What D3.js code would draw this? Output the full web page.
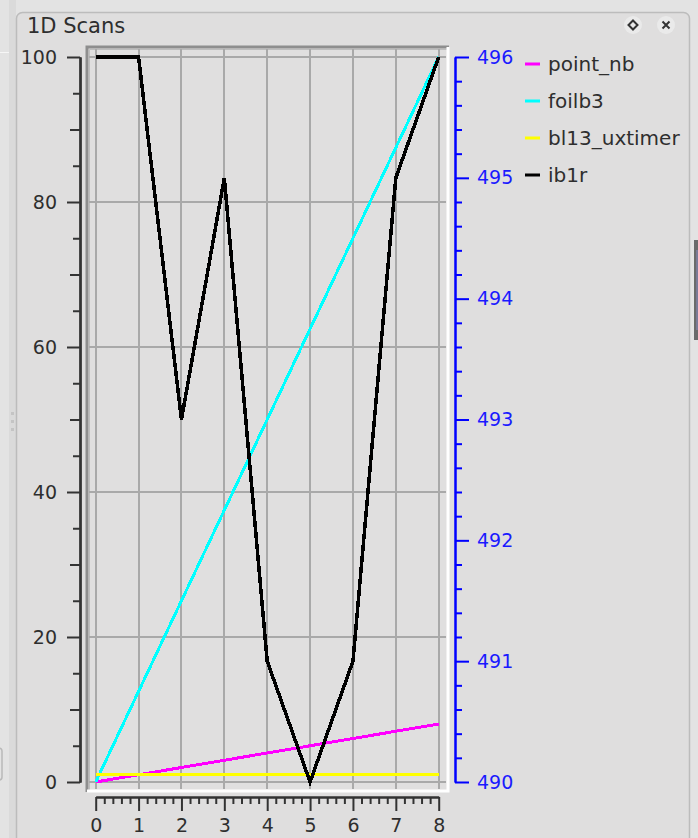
<!DOCTYPE html>
<html>
<head>
<meta charset="utf-8">
<script src="https://cdn.jsdelivr.net/npm/d3@7"></script>
<style>
  html, body { margin: 0; padding: 0; background: #e2e2e2; }
  svg { display: block; }
</style>
</head>
<body>
<svg id="chart" width="698" height="838"></svg>
<script>
// ---- data ----
const xValues = [0, 1, 2, 3, 4, 5, 6, 7, 8];
const pointNb = [0, 1, 2, 3, 4, 5, 6, 7, 8];
const foilb3 = [0, 12.5, 25, 37.5, 50, 62.5, 75, 87.5, 100];
const bl13Uxtimer = [1, 1, 1, 1, 1, 1, 1, 1, 1];
const ib1r = [496, 496, 493, 495, 491, 490, 491, 495, 496];
const seriesNames = ["point_nb", "foilb3", "bl13_uxtimer", "ib1r"];
const seriesColors = ["#ff00ff", "#00ffff", "#ffff00", "#000000"];
const xTicks = [0, 1, 2, 3, 4, 5, 6, 7, 8];
const leftTicks = [0, 20, 40, 60, 80, 100];
const rightTicks = [490, 491, 492, 493, 494, 495, 496];
const title = "1D Scans";

const svg = d3.select("#chart");
const FONT = "DejaVu Sans, sans-serif";
const TXT = "#2e2e2e";
const AXIS_FS = 19;

// ---- window chrome ----
svg.append("rect").attr("x", 0).attr("y", 0).attr("width", 698).attr("height", 838).attr("fill", "#e3e3e3");
svg.append("rect").attr("x", 9).attr("y", 0).attr("width", 7).attr("height", 838).attr("fill", "#dadada");
svg.append("line").attr("x1", 0).attr("x2", 9).attr("y1", 52.5).attr("y2", 52.5).attr("stroke", "#f6f6f6").attr("stroke-width", 1);
svg.append("rect").attr("x", -4).attr("y", 748).attr("width", 6).attr("height", 32).attr("rx", 3)
  .attr("fill", "none").attr("stroke", "#b9b9b9").attr("stroke-width", 1.5);
[412, 420, 428].forEach(y => svg.append("rect").attr("x", 11).attr("y", y).attr("width", 3).attr("height", 3).attr("fill", "#c4c4c4"));
svg.append("rect").attr("x", 16.5).attr("y", 12.5).attr("width", 673).attr("height", 840).attr("rx", 6)
  .attr("fill", "#dfdede").attr("stroke", "#bcbcbc").attr("stroke-width", 1.5);
// right scroll handle
svg.append("rect").attr("x", 694).attr("y", 240).attr("width", 6).attr("height", 100).attr("fill", "#6a6a6a");
svg.append("rect").attr("x", 696).attr("y", 250).attr("width", 4).attr("height", 80).attr("fill", "#7a7a96");

// title & buttons
svg.append("text").attr("x", 27).attr("y", 26).attr("dy", "0.35em")
  .attr("font-family", FONT).attr("font-size", 21).attr("fill", TXT).text(title);
svg.append("circle").attr("cx", 633).attr("cy", 25).attr("r", 9).attr("fill", "#eaeaea");
svg.append("circle").attr("cx", 666).attr("cy", 25).attr("r", 9).attr("fill", "#eaeaea");
svg.append("path").attr("d", "M633,20.5 L637.5,25 L633,29.5 L628.5,25 Z")
  .attr("fill", "none").attr("stroke", "#333").attr("stroke-width", 2);
svg.append("path").attr("d", "M662.5,21.5 L669.5,28.5 M669.5,21.5 L662.5,28.5")
  .attr("stroke", "#333").attr("stroke-width", 2);

// ---- plot frame ----
const frame = { x0: 86, y0: 46, x1: 449, y1: 792 };
svg.append("rect").attr("x", frame.x0).attr("y", frame.y0).attr("width", frame.x1 - frame.x0).attr("height", frame.y1 - frame.y0)
  .attr("fill", "#e0dfdf");
svg.append("path").attr("d", `M${frame.x0 + 1},${frame.y1} V${frame.y0 + 1} H${frame.x1}`)
  .attr("fill", "none").attr("stroke", "#8e8e8e").attr("stroke-width", 3);
svg.append("path").attr("d", `M${frame.x0 + 3.5},${frame.y1 - 2} V${frame.y0 + 3.5} H${frame.x1 - 2}`)
  .attr("fill", "none").attr("stroke", "#bdbdbd").attr("stroke-width", 1);
svg.append("path").attr("d", `M${frame.x0 + 1},${frame.y1 - 1} H${frame.x1 - 1} V${frame.y0 + 1}`)
  .attr("fill", "none").attr("stroke", "#ffffff").attr("stroke-width", 3);

// ---- scales ----
const x = d3.scaleLinear().domain([0, 8]).range([95.7, 438.7]);
const yL = d3.scaleLinear().domain([0, 100]).range([782, 57]);
const yR = d3.scaleLinear().domain([490, 496]).range([782, 57]);

// grid
const grid = svg.append("g").attr("stroke", "#a9a9a9").attr("stroke-width", 2).attr("shape-rendering", "crispEdges");
xTicks.forEach(v => grid.append("line").attr("x1", x(v)).attr("x2", x(v)).attr("y1", frame.y0 + 3).attr("y2", frame.y1 - 3));
leftTicks.forEach(v => grid.append("line").attr("x1", frame.x0 + 3).attr("x2", frame.x1 - 3).attr("y1", yL(v)).attr("y2", yL(v)));

// ---- series ----
const series = [
  { name: seriesNames[0], color: seriesColors[0], values: pointNb, scale: yL },
  { name: seriesNames[1], color: seriesColors[1], values: foilb3, scale: yL },
  { name: seriesNames[2], color: seriesColors[2], values: bl13Uxtimer, scale: yL },
  { name: seriesNames[3], color: seriesColors[3], values: ib1r, scale: yR }
];
series.forEach(s => {
  const line = d3.line().x((d, i) => x(xValues[i])).y(d => s.scale(d));
  svg.append("path").datum(s.values).attr("d", line)
    .attr("fill", "none").attr("stroke", s.color).attr("stroke-width", s.name === "ib1r" ? 3.5 : 3)
    .attr("stroke-linejoin", "miter").attr("shape-rendering", "crispEdges");
});

// ---- axes ----
function styleAxis(g, color) {
  g.selectAll("path,line").attr("stroke", color).attr("stroke-width", 2);
  g.selectAll("text").attr("fill", color).attr("font-family", FONT).attr("font-size", AXIS_FS);
  g.attr("font-family", null).attr("font-size", null);
}
const d3range = (a, b, step) => d3.range(Math.round((b - a) / step) + 1).map(i => +(a + i * step).toFixed(4));

// left axis
const leftMinor = d3range(0, 100, 5).filter(v => v % 10 !== 0);
const leftMedium = d3range(0, 100, 10).filter(v => v % 20 !== 0);
const gL = svg.append("g").attr("transform", "translate(80,0)");
gL.append("g").call(d3.axisLeft(yL).tickValues(leftMinor).tickSize(7).tickSizeOuter(0).tickFormat("")).call(g => styleAxis(g, "#333"));
gL.append("g").call(d3.axisLeft(yL).tickValues(leftMedium).tickSize(10).tickSizeOuter(0).tickFormat("")).call(g => styleAxis(g, "#333"));
gL.append("g").call(d3.axisLeft(yL).tickValues(leftTicks).tickSize(13).tickSizeOuter(0).tickPadding(10).tickFormat(d3.format("d"))).call(g => styleAxis(g, "#333"));
gL.selectAll("text").attr("fill", TXT);

// right axis
const rightMinor = d3range(490, 496, 0.2).filter(v => Math.abs(v - Math.round(v)) > 1e-6);
const gR = svg.append("g").attr("transform", "translate(455,0)");
gR.append("g").call(d3.axisRight(yR).tickValues(rightMinor).tickSize(7).tickSizeOuter(0).tickFormat("")).call(g => styleAxis(g, "#0000ff"));
gR.append("g").call(d3.axisRight(yR).tickValues(rightTicks).tickSize(14).tickSizeOuter(0).tickPadding(8).tickFormat(d3.format("d"))).call(g => styleAxis(g, "#1a1aff"));
gR.selectAll("path,line").attr("stroke", "#0000ff");

// bottom axis
const xMinor = d3range(0, 8, 0.2).filter(v => Math.abs(v - Math.round(v)) > 1e-6);
const gB = svg.append("g").attr("transform", "translate(0,797)");
gB.append("g").call(d3.axisBottom(x).tickValues(xMinor).tickSize(7).tickSizeOuter(0).tickFormat("")).call(g => styleAxis(g, "#333"));
gB.append("g").call(d3.axisBottom(x).tickValues(xTicks).tickSize(14).tickSizeOuter(0).tickPadding(8).tickFormat(d3.format("d"))).call(g => styleAxis(g, "#333"));
gB.selectAll("text").attr("fill", TXT);

// ---- legend ----
const legend = svg.append("g");
series.forEach((s, i) => {
  const cy = 64 + i * 37;
  legend.append("line").attr("x1", 525).attr("x2", 540).attr("y1", cy).attr("y2", cy)
    .attr("stroke", s.color).attr("stroke-width", 3);
  legend.append("text").attr("x", 548).attr("y", cy).attr("dy", "0.35em")
    .attr("font-family", FONT).attr("font-size", 20).attr("fill", TXT).text(s.name);
});
</script>
</body>
</html>
